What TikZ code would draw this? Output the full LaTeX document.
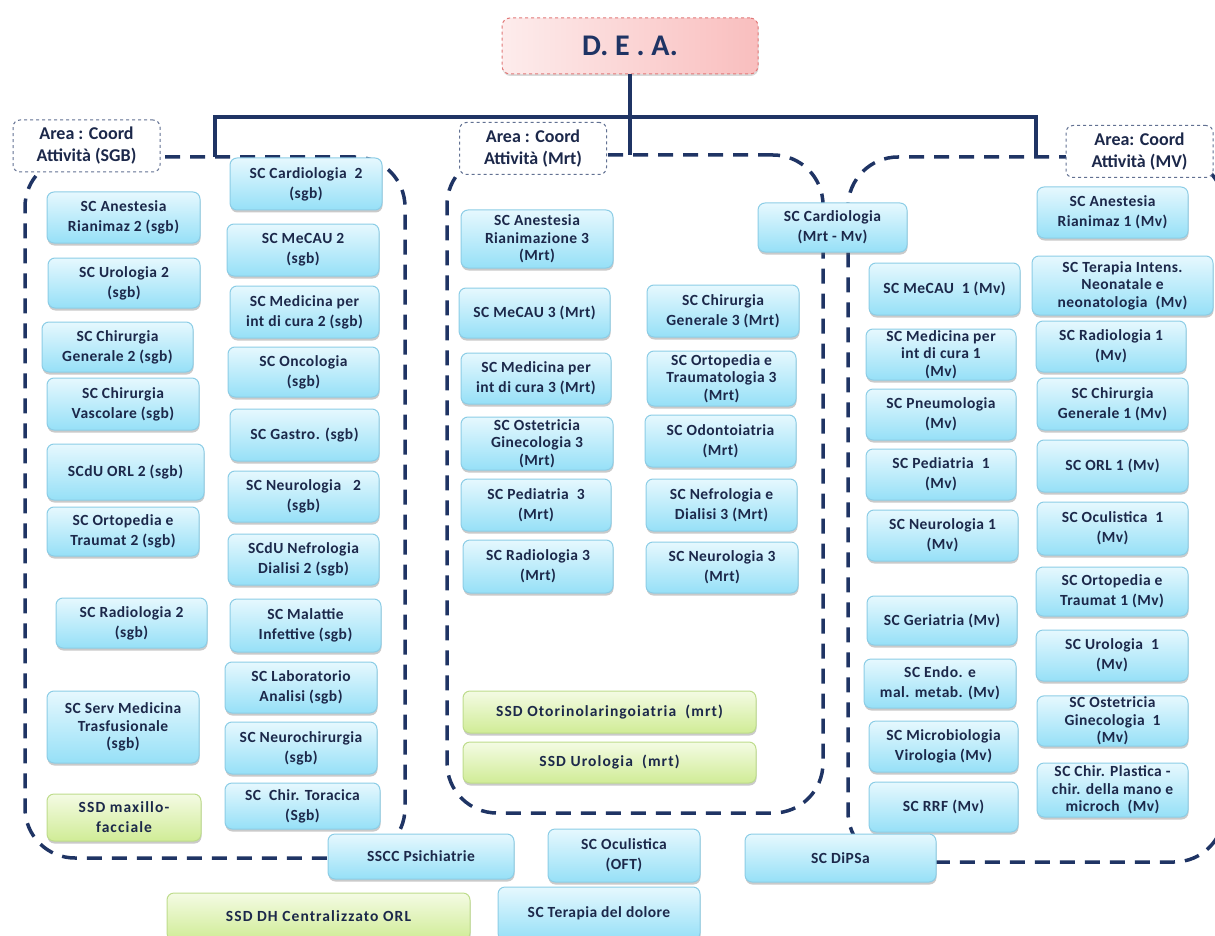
\documentclass[tikz,border=0pt]{standalone}
\usepackage{fontspec}
\setmainfont{Carlito}
\usetikzlibrary{shadows}

\definecolor{navy}{RGB}{31,52,100}
\definecolor{ink}{RGB}{28,40,74}
\definecolor{bluetop}{RGB}{230,248,254}
\definecolor{bluebot}{RGB}{150,224,247}
\definecolor{blueedge}{RGB}{140,205,230}
\definecolor{greentop}{RGB}{244,251,228}
\definecolor{greenbot}{RGB}{208,236,150}
\definecolor{greenedge}{RGB}{190,220,140}
\definecolor{pinkl}{RGB}{253,236,236}
\definecolor{pinkr}{RGB}{249,190,190}
\definecolor{pinkedge}{RGB}{225,120,120}

\tikzset{
  unitbase/.style={draw, rounded corners=7pt, line width=1pt, inner sep=1pt,
    align=center, text=ink,
    font=\fontsize{15.5}{20}\selectfont\bfseries\addfontfeature{LetterSpace=3},
    drop shadow={shadow xshift=0.5pt, shadow yshift=-2.5pt, opacity=0.35, fill=black!60}},
  sc/.style={unitbase, draw=blueedge, top color=bluetop, bottom color=bluebot},
  ssd/.style={unitbase, draw=greenedge, top color=greentop, bottom color=greenbot,
    font=\fontsize{15.5}{20}\selectfont\bfseries\addfontfeature{LetterSpace=7}},
  three/.style={font=\fontsize{15.5}{17.5}\selectfont\bfseries\addfontfeature{LetterSpace=3}},
  area/.style={draw=navy, line width=3.5pt, dash pattern=on 15pt off 10pt,
    rounded corners=50pt, outer sep=0pt},
  arealabel/.style={draw=navy!70, fill=white, dashed, line width=1pt,
    rounded corners=7pt, align=center, text=ink,
    font=\fontsize{18}{22}\selectfont\bfseries, inner sep=1pt,
    minimum width=147pt, minimum height=52pt},
  deabox/.style={draw=pinkedge, dashed, line width=1pt, rounded corners=8pt,
    left color=pinkl, right color=pinkr, text=navy,
    font=\fontsize{30}{34}\selectfont\bfseries, outer sep=0pt,
    drop shadow={shadow xshift=0.5pt, shadow yshift=-2pt, opacity=0.25, fill=black!60}},
  link/.style={draw=navy, line width=3.5pt},
}

% unit box given by its corners: style, name, x1, y1, x2, y2, text
\newcommand{\deptbox}[7]{%
  \node[#1, minimum width={#5-#3}, minimum height={#6-#4}] (#2)
    at ({(#3+#5)/2},{(#4+#6)/2}) {#7};}

\begin{document}
\begin{tikzpicture}[x=1pt, y=-1pt]
\useasboundingbox (0,0) rectangle (1215,936);
\clip (0,0) rectangle (1215,936);

% coordination areas
\node[area, minimum width=380pt, minimum height=701pt] (sgb) at (215,507.5) {};
\node[area, minimum width=376pt, minimum height=658pt] (mrt) at (635,484) {};
\node[area, minimum width=376pt, minimum height=705pt] (mv) at (1036,509.5) {};

% head of the department
\node[deabox, minimum width=256pt, minimum height=56pt] (dea) at (630,46) {D. E . A.};

% tree from the head to the three areas
\coordinate (bus) at (630,117);
\draw[link] (dea.south) -- (dea.south |- mrt.north);
\draw[link] (sgb.north) |- (bus) -| (mv.north);

% area labels
\node[arealabel] (lsgb) at (86.5,146) {Area : Coord\\Attività (SGB)};
\node[arealabel] (lmrt) at (533,148.5) {Area : Coord\\Attività (Mrt)};
\node[arealabel] (lmv) at (1139.5,151.5) {Area: Coord\\Attività (MV)};

% area SGB, first column
\deptbox{sc}{anes2}{47}{192}{200}{243}{SC Anestesia\\Rianimaz 2 (sgb)}
\deptbox{sc}{uro2}{48}{258}{200}{308}{SC Urologia  2\\(sgb)}
\deptbox{sc}{chg2}{42}{322}{193}{372}{SC Chirurgia\\Generale 2 (sgb)}
\deptbox{sc}{chv2}{47}{378}{199}{430}{SC Chirurgia\\Vascolare (sgb)}
\deptbox{sc}{orl2}{47}{444}{204}{500}{SCdU ORL 2 (sgb)}
\deptbox{sc}{orto2}{47}{507}{199}{556}{SC Ortopedia e\\Traumat 2 (sgb)}
\deptbox{sc}{rad2}{56}{598}{207}{648}{SC Radiologia 2\\(sgb)}
\deptbox{sc,three}{trasf}{47}{691}{199}{763}{SC Serv Medicina\\Trasfusionale\\(sgb)}
\deptbox{ssd}{maxfac}{47}{794}{201}{841}{SSD maxillo-\\facciale}

% area SGB, second column
\deptbox{sc}{card2}{230}{158}{382}{210}{SC Cardiologia~~2\\(sgb)}
\deptbox{sc}{mecau2}{227}{224}{379}{276}{SC MeCAU 2\\(sgb)}
\deptbox{sc}{med2}{230}{286}{379}{338}{SC Medicina per\\int di cura 2 (sgb)}
\deptbox{sc}{onco}{228}{347}{379}{397}{SC Oncologia\\(sgb)}
\deptbox{sc}{gastro}{230}{409}{379}{461}{SC Gastro. (sgb)}
\deptbox{sc}{neuro2}{228}{471}{379}{522}{SC Neurologia~~~2\\(sgb)}
\deptbox{sc}{nefro2}{228}{534}{379}{585}{SCdU Nefrologia\\Dialisi 2 (sgb)}
\deptbox{sc}{malinf}{230}{599}{381}{652}{SC Malattie\\Infettive (sgb)}
\deptbox{sc}{lab}{225}{662}{377}{713}{SC Laboratorio\\Analisi (sgb)}
\deptbox{sc}{neurochir}{225}{722}{377}{774}{SC Neurochirurgia\\(sgb)}
\deptbox{sc}{torac}{225}{783}{380}{829}{SC~~Chir. Toracica\\(Sgb)}

% area Mrt, first column
\deptbox{sc,three}{anes3}{461}{210}{613}{268}{SC Anestesia\\Rianimazione 3\\(Mrt)}
\deptbox{sc}{mecau3}{459}{288}{610}{338}{SC MeCAU 3 (Mrt)}
\deptbox{sc}{med3}{461}{353}{611}{404}{SC Medicina per\\int di cura 3 (Mrt)}
\deptbox{sc,three}{oste3}{461}{417}{613}{470}{SC Ostetricia\\Ginecologia 3\\(Mrt)}
\deptbox{sc}{ped3}{461}{479}{611}{531}{SC Pediatria~~3\\(Mrt)}
\deptbox{sc}{rad3}{463}{540}{613}{593}{SC Radiologia 3\\(Mrt)}

% area Mrt, second column
\deptbox{sc}{chg3}{647}{285}{799}{337}{SC Chirurgia\\Generale 3 (Mrt)}
\deptbox{sc,three}{orto3}{647}{351}{796}{406}{SC Ortopedia e\\Traumatologia 3\\(Mrt)}
\deptbox{sc}{odonto}{645}{415}{796}{467}{SC Odontoiatria\\(Mrt)}
\deptbox{sc}{nefro3}{646}{479}{797}{531}{SC Nefrologia e\\Dialisi 3 (Mrt)}
\deptbox{sc}{neuro3}{646}{542}{798}{593}{SC Neurologia 3\\(Mrt)}
\deptbox{ssd}{otorino}{463}{691}{756}{733}{SSD Otorinolaringoiatria~~(mrt)}
\deptbox{ssd}{uro3}{463}{742}{756}{783}{SSD Urologia~~(mrt)}

% shared between Mrt and Mv
\deptbox{sc}{cardmm}{758}{203}{907}{252}{SC Cardiologia\\(Mrt - Mv)}

% area Mv, first column
\deptbox{sc}{mecau1}{869}{263}{1020}{315}{SC MeCAU~~1 (Mv)}
\deptbox{sc,three}{med1}{866}{329}{1016}{380}{SC Medicina per\\int di cura 1\\(Mv)}
\deptbox{sc}{pneumo}{866}{389}{1016}{440}{SC Pneumologia\\(Mv)}
\deptbox{sc}{ped1}{866}{449}{1016}{500}{SC Pediatria~~1\\(Mv)}
\deptbox{sc}{neuro1}{867}{510}{1018}{561}{SC Neurologia 1\\(Mv)}
\deptbox{sc}{geria}{867}{596}{1017}{645}{SC Geriatria (Mv)}
\deptbox{sc}{endo}{864}{659}{1016}{708}{SC Endo. e\\mal. metab. (Mv)}
\deptbox{sc}{micro}{869}{721}{1018}{772}{SC Microbiologia\\Virologia (Mv)}
\deptbox{sc}{rrf}{869}{782}{1018}{832}{SC RRF (Mv)}

% area Mv, second column
\deptbox{sc}{anes1}{1037}{187}{1188}{238}{SC Anestesia\\Rianimaz 1 (Mv)}
\deptbox{sc,three}{tin}{1032}{256}{1213}{315}{SC Terapia Intens.\\Neonatale e\\neonatologia~~(Mv)}
\deptbox{sc}{rad1}{1036}{321}{1186}{372}{SC Radiologia 1\\(Mv)}
\deptbox{sc}{chg1}{1037}{378}{1188}{430}{SC Chirurgia\\Generale 1 (Mv)}
\deptbox{sc}{orl1}{1037}{440}{1188}{492}{SC ORL 1 (Mv)}
\deptbox{sc}{ocul1}{1037}{502}{1188}{555}{SC Oculistica~~1\\(Mv)}
\deptbox{sc}{orto1}{1036}{567}{1188}{616}{SC Ortopedia e\\Traumat 1 (Mv)}
\deptbox{sc}{uro1}{1036}{630}{1188}{681}{SC Urologia~~1\\(Mv)}
\deptbox{sc,three}{oste1}{1037}{696}{1188}{746}{SC Ostetricia\\Ginecologia~~1\\(Mv)}
\deptbox{sc,three}{plast}{1037}{763}{1188}{817}{SC Chir. Plastica -\\chir. della mano e\\microch~~(Mv)}

% units outside the areas
\deptbox{sc}{psich}{328}{834}{514}{879}{SSCC Psichiatrie}
\deptbox{sc}{oft}{548}{829}{700}{882}{SC Oculistica\\(OFT)}
\deptbox{sc}{dipsa}{745}{834}{936}{882}{SC DiPSa}
\deptbox{ssd}{dhorl}{167}{893}{470}{940}{SSD DH Centralizzato ORL}
\deptbox{sc}{dolore}{498}{887}{700}{940}{SC Terapia del dolore}
\end{tikzpicture}
\end{document}
